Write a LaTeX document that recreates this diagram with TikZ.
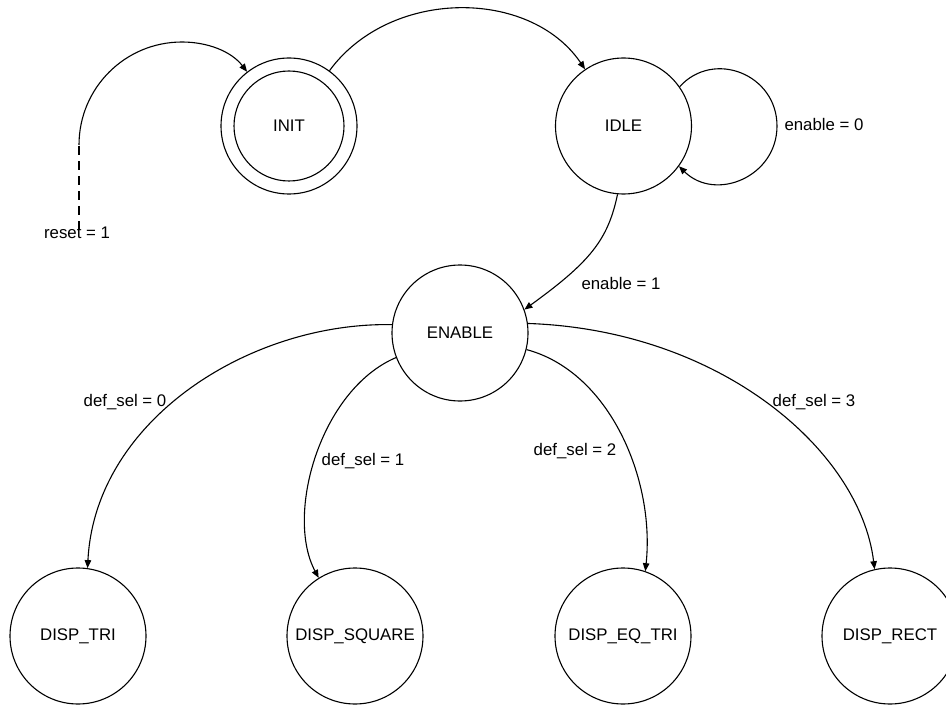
\documentclass[tikz,border=0pt]{standalone}
\usepackage{fontspec}
\setmainfont{Liberation Sans}
\usetikzlibrary{arrows.meta}

\begin{document}
\begin{tikzpicture}[
  x=1pt, y=-1pt,
  >={Triangle[length=8pt,width=6.5pt]},
  line width=1.1pt,
  every node/.style={font=\fontsize{16.8}{20}\selectfont},
  state/.style={
    circle,
    draw,
    minimum size=136pt,
    inner sep=0pt
  },
  cond/.style={anchor=base,inner sep=1pt}
]
  \useasboundingbox (0,0) rectangle (946,706);

  \node[state] (init) at (289,126) {INIT};
  \node[state,minimum size=110pt] (initcore) at (init) {};
  \node[state] (idle) at (623.5,126) {IDLE};
  \node[state] (enable) at (460,333) {ENABLE};
  \node[state] (dtri) at (78,636) {DISP\_TRI};
  \node[state] (dsquare) at (355,636) {DISP\_SQUARE};
  \node[state] (deqtri) at (623,636) {DISP\_EQ\_TRI};
  \node[state] (drect) at (890,636) {DISP\_RECT};

  \coordinate (rsttop) at (79,145);
  \coordinate (rstfoot) at (79,230);
  \coordinate (rstpeak) at (182,42);
  \coordinate (loopright) at (777,126);
  \node[cond] (rstlbl) at (77,239) {reset = 1};
  \node[cond,anchor=base west] (en0) at (783,131) {enable = 0};
  \node[cond] (en1) at (621,289) {enable = 1};
  \node[cond] (sel0) at (125,406) {def\_sel = 0};
  \node[cond] (sel1) at (363,465) {def\_sel = 1};
  \node[cond] (sel2) at (575,455) {def\_sel = 2};
  \node[cond] (sel3) at (814,406) {def\_sel = 3};

  \draw[dash pattern=on 9pt off 6pt] (rstfoot) -- (rsttop);
  \draw[->] (rsttop) .. controls (79,88) and (125,42) .. (rstpeak)
    .. controls (207,42) and (231,51) .. (init);
  \draw[->] (init) .. controls (390,-12) and (530,-12) .. (idle);
  \draw[->] (idle.35) .. controls (713.6,49.3) and (777,74.2) .. (loopright)
    .. controls (777,176.8) and (715.6,202.2) .. (idle.-36);
  \draw[->] (idle.265) .. controls (608,240) and (590,262) .. (enable.20);
  \draw[->] (enable.173) .. controls (250,322) and (95,420) .. (dtri.82);
  \draw[->] (enable.201) .. controls (320,390) and (285,515) .. (dsquare.122);
  \draw[->] (enable.346) .. controls (610,372) and (655,480) .. (deqtri.71);
  \draw[->] (enable.8) .. controls (720,330) and (860,450) .. (drect.103);
\end{tikzpicture}
\end{document}
